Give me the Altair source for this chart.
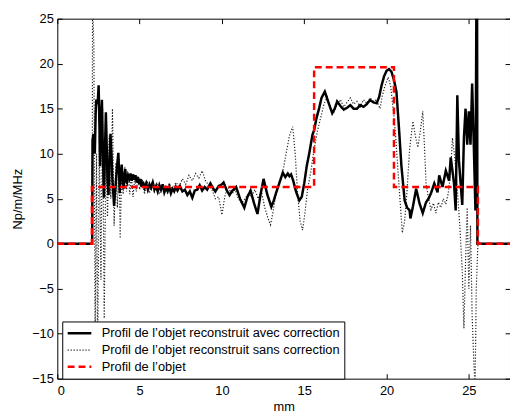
import altair as alt
import pandas as pd

# ---- data (x in mm, y in Np/m/MHz) ----
black_x = [0, 2.12, 2.14, 2.2, 2.28, 2.33, 2.37, 2.45, 2.51, 2.56, 2.6, 2.66, 2.71, 2.77, 2.83, 2.89,
           2.95, 3.0, 3.05, 3.11, 3.17, 3.23, 3.29, 3.35, 3.45, 3.5, 3.55, 3.62, 3.71, 3.79, 3.85, 3.91,
           3.97, 4.03, 4.08, 4.13, 4.18, 4.23, 4.3, 4.38, 4.45, 4.52, 4.6, 4.68, 4.75, 4.82, 4.9, 4.97,
           5.05, 5.12, 5.2, 5.3, 5.4, 5.5, 5.6, 5.7, 5.8, 5.9, 6.0, 6.1, 6.2, 6.3, 6.4, 6.5, 6.6, 6.7,
           6.8, 6.9, 7.0, 7.1, 7.2, 7.3, 7.45, 7.6, 7.75, 7.9, 8.05, 8.2, 8.35, 8.5, 8.65, 8.8, 8.95,
           9.1, 9.3, 9.45, 9.6, 9.8, 10.0, 10.1, 10.3, 10.46, 10.6, 10.86, 11.1, 11.36, 11.55, 11.74,
           11.95, 12.16, 12.35, 12.53, 12.75, 13.0, 13.15, 13.3, 13.5, 13.7, 13.85, 14.0, 14.1, 14.2,
           14.33, 14.5, 14.7, 14.85, 15.0, 15.15, 15.3, 15.5, 15.6, 15.75, 15.9, 16.05, 16.25, 16.45,
           16.7, 16.85, 17.0, 17.2, 17.4, 17.6, 17.8, 18.0, 18.2, 18.4, 18.6, 18.8, 19.0, 19.2, 19.4,
           19.55, 19.7, 19.85, 20.0, 20.15, 20.3, 20.45, 20.6, 20.75, 20.9, 21.1, 21.25, 21.4, 21.45,
           21.6, 21.8, 22.0, 22.2, 22.4, 22.55, 22.7, 22.9, 23.1, 23.2, 23.4, 23.6, 23.8, 23.9, 24.1,
           24.2, 24.3, 24.4, 24.6, 24.7, 24.8, 24.9, 25.0, 25.1, 25.2, 25.3, 25.4, 25.46, 25.5, 25.52,
           27.5]
black_y = [0, 0, 11.5, 12.2, 10.0, 14.5, 16.0, 15.5, 17.6, 13.0, 8.6, 14.0, 16.0, 10.0, 5.1, 10.0,
           14.6, 11.0, 7.0, 5.4, 9.0, 12.2, 10.0, 7.0, 4.2, 5.5, 6.6, 8.5, 10.1, 5.6, 7.5, 8.8,
           7.2, 6.1, 7.5, 8.3, 7.0, 6.8, 7.6, 7.2, 7.8, 7.0, 7.7, 7.1, 7.6, 6.8, 7.4, 6.6,
           7.2, 6.3, 6.9, 6.2, 6.7, 6.0, 6.6, 6.2, 6.8, 6.0, 6.4, 5.8, 6.5, 6.0, 6.6, 5.7, 6.2, 5.8,
           6.3, 5.6, 6.1, 5.8, 6.3, 5.9, 6.4, 5.8, 6.0, 5.4, 5.8, 5.1, 5.9, 6.0, 6.5, 5.9, 6.3,
           6.0, 6.7, 6.2, 5.8, 6.4, 6.6, 6.8, 5.9, 5.4, 5.8, 6.3, 5.0, 4.0, 5.2, 5.9,
           4.5, 3.3, 5.5, 7.2, 5.5, 4.1, 4.8, 5.7, 6.8, 7.9, 7.4, 7.8, 7.5, 7.7,
           7.0, 5.8, 4.8, 5.2, 6.7, 8.6, 10.0, 12.1, 12.6, 14.0, 15.0, 16.2, 16.9, 15.8,
           14.5, 15.0, 15.8, 15.3, 14.9, 15.1, 15.4, 15.0, 15.0, 15.4, 15.2, 15.5, 15.96, 15.7, 15.6,
           16.3, 17.6, 18.6, 19.2, 19.4, 19.1, 18.2, 16.9, 13.0, 8.7, 4.8, 4.0, 3.7, 2.8,
           4.1, 6.1, 4.5, 3.4, 4.6, 5.0, 5.6, 6.7, 5.7, 7.6, 6.3, 8.1, 7.0, 9.6, 6.7,
           3.7, 16.5, 9.2, 4.3, 11.75, 15.0, 11.0, 14.7, 11.0, 17.8, 11.0, 3.7, 27.0, 27.0, 0,
           0]

dot_x = [0, 2.12, 2.14, 2.22, 2.3, 2.38, 2.45, 2.55, 2.65, 2.75, 2.85, 2.95, 3.05, 3.15, 3.25,
         3.35, 3.45, 3.55, 3.65, 3.75, 3.82, 3.9, 4.0, 4.1, 4.2, 4.3, 4.4, 4.5, 4.6, 4.7, 4.8, 4.9,
         5.0, 5.15, 5.3, 5.45, 5.6, 5.75, 5.9, 6.05, 6.2, 6.4, 6.6, 6.8, 7.0, 7.2, 7.4, 7.6, 7.8,
         8.0, 8.2, 8.4, 8.6, 8.8, 9.0, 9.2, 9.4, 9.6, 9.8, 10.0, 10.2, 10.4, 10.6, 10.8, 11.0, 11.2,
         11.4, 11.6, 11.8, 12.0, 12.2, 12.4, 12.6, 12.8, 12.95, 13.1, 13.3, 13.5, 13.7, 13.9, 14.1,
         14.3, 14.45, 14.6, 14.75, 14.9, 15.05, 15.2, 15.4, 15.6, 15.8, 16.0, 16.2, 16.4, 16.6,
         16.8, 17.0, 17.2, 17.4, 17.6, 17.8, 18.0, 18.2, 18.4, 18.6, 18.8, 19.0, 19.2, 19.4, 19.6,
         19.75, 19.9, 20.1, 20.25, 20.4, 20.55, 20.7, 20.85, 20.96, 21.1, 21.25, 21.4, 21.6, 21.75,
         21.9, 22.05, 22.2, 22.3, 22.4, 22.55, 22.7, 22.85, 23.0, 23.15, 23.3, 23.45, 23.6, 23.75,
         23.9, 24.0, 24.15, 24.3, 24.45, 24.6, 24.7, 24.8, 24.9, 25.0, 25.1, 25.2, 25.3, 25.38,
         25.45, 25.55, 27.5]
dot_y = [0, 0, 27.0, 22.0, -11.0, 10.0, -13.5, 12.0, -4.0, 15.0, -8.3, 10.0, 3.0, 12.0, 5.0,
         15.0, 2.0, 9.0, 4.0, 9.5, 0.6, 7.5, 5.5, 8.5, 5.8, 7.8, 5.5, 7.6, 5.2, 7.3, 5.8, 7.5,
         6.0, 7.2, 5.5, 7.0, 5.6, 6.9, 5.8, 6.8, 5.5, 6.5, 5.9, 6.7, 6.0, 6.8, 6.4, 7.2, 6.6,
         7.6, 7.0, 7.8, 7.3, 8.1, 7.0, 6.5, 6.0, 5.0, 5.2, 3.2, 5.5, 6.2, 5.5, 6.0, 5.0, 4.5,
         5.0, 5.5, 5.2, 6.0, 5.0, 5.8, 4.0, 2.8, 2.1, 3.5, 5.8, 7.0, 8.0, 10.0, 12.0,
         13.0, 10.0, 5.5, 2.5, 1.5, 3.5, 6.0, 8.0, 10.5, 12.5, 14.0, 15.5, 16.3, 15.0,
         14.6, 15.5, 16.0, 15.2, 15.7, 16.2, 15.5, 15.8, 15.2, 16.0, 15.6, 16.2, 15.8, 16.0, 15.0,
         16.5, 17.5, 18.5, 17.5, 15.0, 12.0, 8.0, 4.0, 1.2, 2.5, 6.0, 10.5, 13.6, 12.0,
         10.7, 12.5, 14.7, 11.0, 6.7, 5.0, 3.8, 4.5, 3.4, 4.6, 4.0, 5.0, 4.4, 5.6,
         8.0, 11.75, 9.5, 6.0, 2.0, -3.0, -9.4, -2.0, 4.0, -5.0, 2.0, -8.0, -13.0, -16.0,
         -5.0, 0, 0]

obj_x = [0, 2.1, 2.1, 15.6, 15.6, 20.45, 20.45, 25.55, 25.55, 27.5]
obj_y = [0, 0, 6.3, 6.3, 19.6, 19.6, 6.3, 6.3, 0, 0]

names = ["Profil de l’objet reconstruit avec correction",
         "Profil de l’objet reconstruit sans correction",
         "Profil de l’objet"]
colors = ["#000000", "#222222", "#ff0000"]
dashes = [[1, 0], [1.2, 1.8], [7, 4]]
widths = [2.5, 1.2, 2.5]

x_ticks = [0, 5, 10, 15, 20, 25]
y_ticks = [-15, -10, -5, 0, 5, 10, 15, 20, 25]


def frame(xs, ys, name):
    return pd.DataFrame({"x": xs, "y": ys, "series": name, "i": list(range(len(xs)))})


df_black = frame(black_x, black_y, names[0])
df_dot = frame(dot_x, dot_y, names[1])
df_obj = frame(obj_x, obj_y, names[2])

xscale = alt.Scale(domain=[0, 27.5], nice=False, zero=False)
yscale = alt.Scale(domain=[-15, 25], nice=False, zero=False)

legend = alt.Legend(title=None, orient="none", legendX=5, legendY=307,
                    symbolType="stroke", symbolSize=576, clipHeight=16,
                    labelFont="Liberation Sans", labelFontSize=13, labelColor="black",
                    labelLimit=0, labelOffset=9, strokeColor="black", fillColor="white",
                    padding=4, rowPadding=1, cornerRadius=0)

enc_common = dict(
    color=alt.Color("series:N", scale=alt.Scale(domain=names, range=colors), legend=legend),
    strokeDash=alt.StrokeDash("series:N", scale=alt.Scale(domain=names, range=dashes), legend=legend),
    strokeWidth=alt.StrokeWidth("series:N",
                                scale=alt.Scale(type="ordinal", domain=names, range=widths),
                                legend=legend),
    order=alt.Order("i:Q"),
)

bottom_axis = alt.Axis(orient="bottom", values=x_ticks, tickSize=5, offset=-5, domain=False,
                       grid=False, labelPadding=6, title="mm", titlePadding=3)
left_axis = alt.Axis(orient="left", values=y_ticks, tickSize=5, offset=-5, domain=False,
                     grid=False, labelPadding=4, title="Np/m/MHz", titlePadding=7)
top_axis = alt.Axis(orient="top", values=x_ticks, tickSize=5, offset=-5, domain=False,
                    grid=False, labels=False, title=None)
right_axis = alt.Axis(orient="right", values=y_ticks, tickSize=5, offset=-5, domain=False,
                      grid=False, labels=False, title=None)

dots = alt.Chart(df_dot).mark_line(clip=True).encode(
    x=alt.X("x:Q", scale=xscale, axis=bottom_axis),
    y=alt.Y("y:Q", scale=yscale, axis=left_axis),
    **enc_common,
)
black = alt.Chart(df_black).mark_line(clip=True).encode(
    x=alt.X("x:Q", scale=xscale, axis=top_axis),
    y=alt.Y("y:Q", scale=yscale, axis=right_axis),
    **enc_common,
)
obj = alt.Chart(df_obj).mark_line(clip=True).encode(
    x=alt.X("x:Q", scale=xscale, axis=None),
    y=alt.Y("y:Q", scale=yscale, axis=None),
    **enc_common,
)

chart = alt.layer(dots, black, obj).resolve_axis(
    x="independent", y="independent"
).properties(
    width=459, height=365,
    autosize=alt.AutoSizeParams(type="none"),
    padding={"left": 50, "top": 8, "right": 0, "bottom": 34},
    background="white",
).configure_view(
    stroke="black", strokeWidth=1
).configure_axis(
    labelFont="Liberation Sans", labelFontSize=13, labelColor="black",
    titleFont="Liberation Sans", titleFontSize=13, titleFontWeight="normal", titleColor="black",
    tickColor="black", tickWidth=1,
)

chart.save("out.html", embed_options={"renderer": "svg", "actions": False})
